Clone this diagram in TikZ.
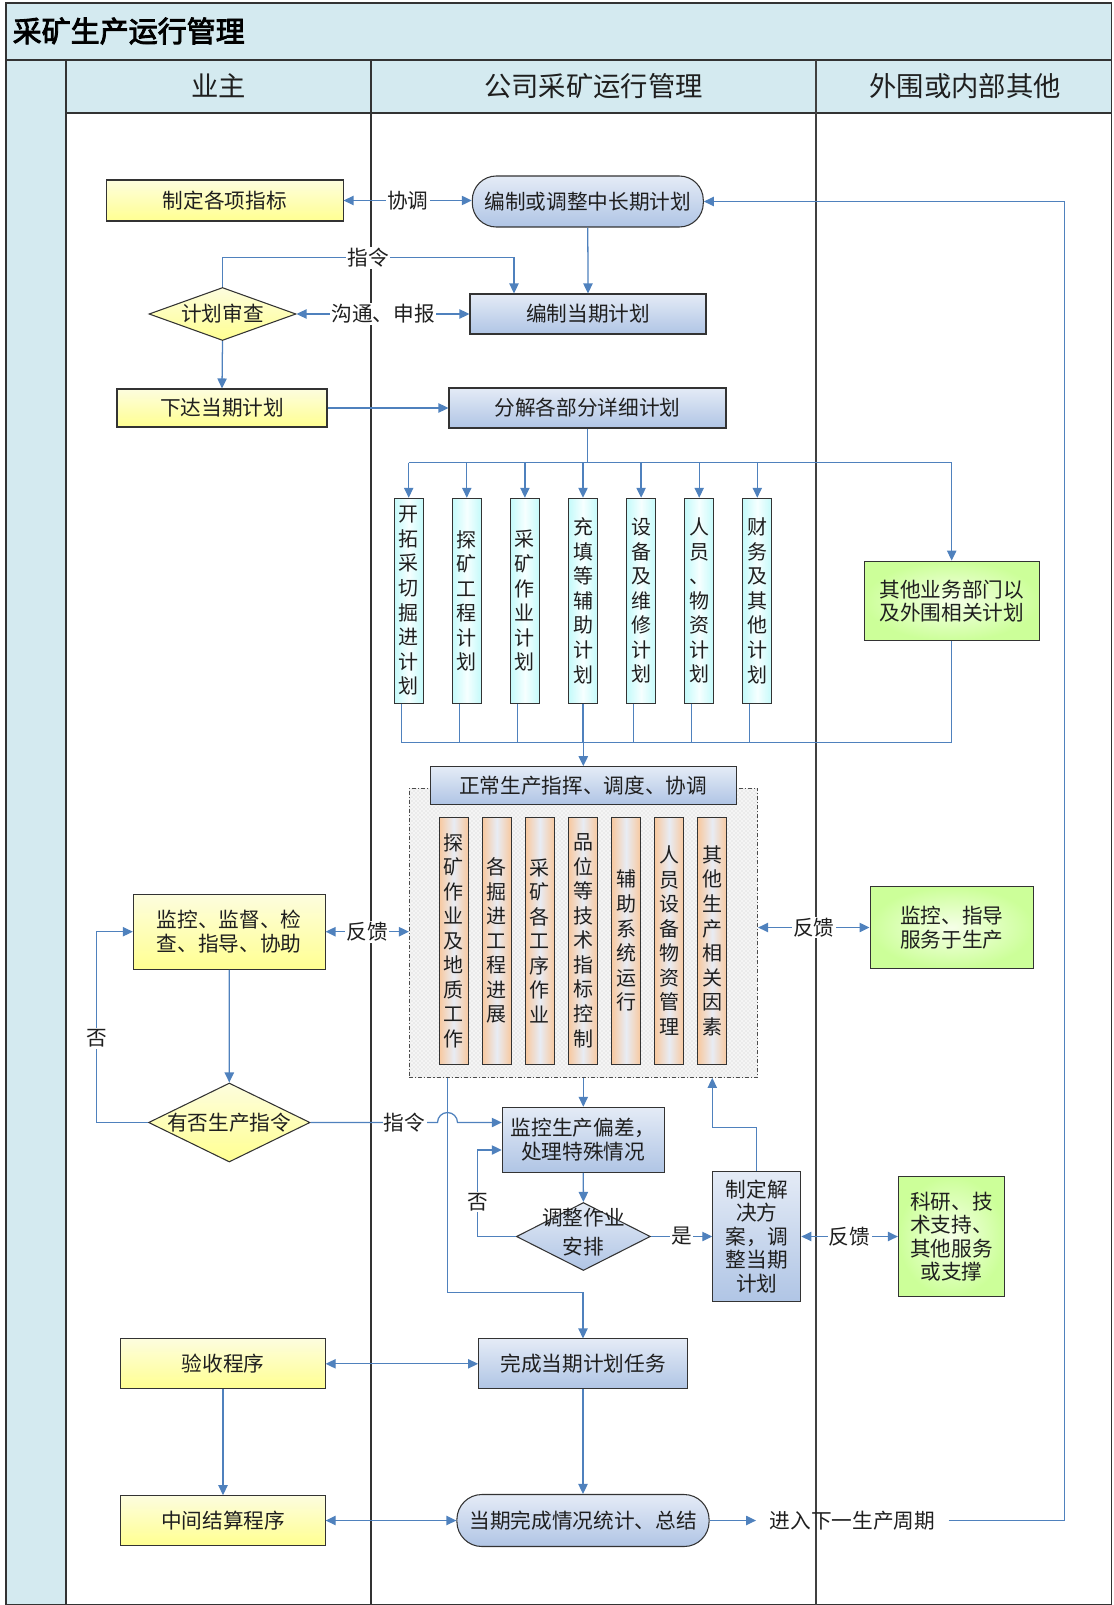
\documentclass[tikz,border=0pt]{standalone}
\usepackage{fontspec}
\setmainfont{Noto Sans CJK SC}
\newfontfamily\cjkb{Noto Sans CJK SC}[AutoFakeBold=3]
\usetikzlibrary{arrows.meta,shapes.geometric,patterns}
\newdimen\pxu \pxu=0.75pt
\definecolor{hdr}{RGB}{212,234,240}
\definecolor{linec}{RGB}{79,129,189}
\definecolor{yelT}{RGB}{253,253,222}
\definecolor{yelB}{RGB}{255,255,145}
\definecolor{bluT}{RGB}{228,235,246}
\definecolor{bluB}{RGB}{176,197,229}
\definecolor{grnI}{RGB}{246,255,232}
\definecolor{grnO}{RGB}{204,255,153}
\definecolor{cyE}{RGB}{196,250,250}
\definecolor{cyM}{RGB}{246,255,255}
\definecolor{orE}{RGB}{248,200,158}
\definecolor{orM}{RGB}{232,236,244}
\begin{document}
\begin{tikzpicture}[x=0.75pt,y=-0.75pt,
  every node/.style={font=\fontsize{15.5pt}{17.6pt}\selectfont, text=black!88},
  box/.style={draw=black!80, line width=0.8pt, inner sep=0pt, align=center},
  ybox/.style={box, top color=yelT, bottom color=yelB},
  bbox/.style={box, top color=bluT, bottom color=bluB},
  gbox/.style={box, inner color=grnI, outer color=grnO},
  cbox/.style={box, left color=cyE, right color=cyE, middle color=cyM,
    minimum width=29\pxu, minimum height=205\pxu, font=\fontsize{15pt}{18.4pt}\selectfont},
  obox/.style={box, left color=orE, right color=orE, middle color=orM,
    minimum width=29.3\pxu, minimum height=246.7\pxu, font=\fontsize{15pt}{18.4pt}\selectfont},
  ydia/.style={diamond, draw=black!80, line width=0.8pt, inner sep=0pt, top color=yelT, bottom color=yelB},
  bdia/.style={diamond, draw=black!80, line width=0.8pt, inner sep=0pt, top color=bluT, bottom color=bluB},
  conn/.style={draw=linec, line width=0.95pt},
  arr/.style={conn, -{Triangle[length=7.5pt,width=7pt]}},
  darr/.style={conn, {Triangle[length=7.5pt,width=7pt]}-{Triangle[length=7.5pt,width=7pt]}},
  lbl/.style={fill=white, inner sep=1pt},
  lane/.style={draw=black!80, line width=0.8pt}
]
\useasboundingbox (0,0) rectangle (1113,1605);
% frame and lanes
\fill[hdr] (6,3) rectangle (1111.5,113);
\fill[hdr] (6,60) rectangle (66,1604.5);
\draw[lane] (6,3) rectangle (1111.5,1604.5);
\draw[lane] (6,60) -- (1111.5,60);
\draw[lane] (66,113) -- (1111.5,113);
\draw[lane] (66,60) -- (66,1604.5);
\draw[lane] (371,60) -- (371,1604.5);
\draw[lane, line width=1.5pt, black!75] (816,60) -- (816,1604.5);
\node[anchor=west, font=\cjkb\bfseries\fontsize{21.75pt}{24pt}\selectfont, text=black] (title) at (8,31) {采矿生产运行管理};
\node[font=\fontsize{20.5pt}{24pt}\selectfont] (h1) at (218.5,86) {业主};
\node[font=\fontsize{20.5pt}{24pt}\selectfont] (h2) at (593.5,86) {公司采矿运行管理};
\node[font=\fontsize{20.5pt}{24pt}\selectfont] (h3) at (965,86) {外围或内部其他};

% nodes
\node[ybox, minimum width=236.5\pxu, minimum height=41\pxu] (n1) at (224.8,200.5) {制定各项指标};
\node[bbox, rounded corners=24\pxu, minimum width=231\pxu, minimum height=51\pxu] (t1) at (587.8,201.5) {编制或调整中长期计划};
\node[bbox, minimum width=236\pxu, minimum height=40\pxu] (n2) at (588,314) {编制当期计划};
\node[ydia, minimum width=147\pxu, minimum height=53\pxu] (d1) at (222.5,314) {};
\node (d1t) at (d1) {计划审查};
\node[ybox, minimum width=210\pxu, minimum height=38\pxu] (n3) at (222,408) {下达当期计划};
\node[bbox, minimum width=277\pxu, minimum height=40\pxu] (n4) at (587.5,408) {分解各部分详细计划};

\node[cbox] (c1) at (408.7,600.8) {开\\拓\\采\\切\\掘\\进\\计\\划};
\node[cbox] (c2) at (466.8,600.8) {探\\矿\\工\\程\\计\\划};
\node[cbox] (c3) at (524.9,600.8) {采\\矿\\作\\业\\计\\划};
\node[cbox] (c4) at (583.0,600.8) {充\\填\\等\\辅\\助\\计\\划};
\node[cbox] (c5) at (641.1,600.8) {设\\备\\及\\维\\修\\计\\划};
\node[cbox] (c6) at (699.2,600.8) {人\\员\\、\\物\\资\\计\\划};
\node[cbox] (c7) at (757.3,600.8) {财\\务\\及\\其\\他\\计\\划};
\node[gbox, minimum width=175.3\pxu, minimum height=79.7\pxu] (g1) at (951.7,601) {其他业务部门以\\及外围相关计划};

\node[draw=black!70, line width=0.6pt, dash pattern=on 3pt off 1.5pt on 0.8pt off 1.5pt,
  preaction={fill=gray!8}, pattern=crosshatch dots, pattern color=gray!40,
  minimum width=348.4\pxu, minimum height=289.2\pxu, inner sep=0pt] (zone) at (583.5,932.9) {};
\node[bbox, minimum width=306\pxu, minimum height=37.6\pxu] (n5) at (583.3,785.5) {正常生产指挥、调度、协调};
\node[obox] (o1) at (453.7,940.7) {探\\矿\\作\\业\\及\\地\\质\\工\\作};
\node[obox] (o2) at (496.8,940.7) {各\\掘\\进\\工\\程\\进\\展};
\node[obox] (o3) at (539.9,940.7) {采\\矿\\各\\工\\序\\作\\业};
\node[obox] (o4) at (583.0,940.7) {品\\位\\等\\技\\术\\指\\标\\控\\制};
\node[obox] (o5) at (626.1,940.7) {辅\\助\\系\\统\\运\\行};
\node[obox] (o6) at (669.2,940.7) {人\\员\\设\\备\\物\\资\\管\\理};
\node[obox] (o7) at (712.3,940.7) {其\\他\\生\\产\\相\\关\\因\\素};

\node[ybox, minimum width=191.7\pxu, minimum height=75.3\pxu] (y1) at (229.2,931.7) {监控、监督、检\\查、指导、协助};
\node[ydia, minimum width=161.5\pxu, minimum height=79\pxu] (d2) at (229.3,1122.5) {};
\node (d2t) at (d2) {有否生产指令};
\node[gbox, minimum width=163.3\pxu, minimum height=81.6\pxu] (g3) at (951.7,927.5) {监控、指导\\服务于生产};
\node[bbox, minimum width=162\pxu, minimum height=65\pxu] (n6) at (583.3,1139.8) {监控生产偏差，\\处理特殊情况};
\node[bdia, minimum width=134\pxu, minimum height=68\pxu] (d3) at (583.4,1236.5) {};
\node[font=\fontsize{15.5pt}{22pt}\selectfont, align=center] (d3t) at (583.4,1232) {调整作业\\安排};
\node[bbox, minimum width=88\pxu, minimum height=130.7\pxu] (n7) at (756.8,1236.5) {制定解\\决方\\案，调\\整当期\\计划};
\node[gbox, minimum width=106\pxu, minimum height=120\pxu] (g2) at (951.4,1236.5) {科研、技\\术支持、\\其他服务\\或支撑};
\node[bbox, minimum width=208.8\pxu, minimum height=49.7\pxu] (n8) at (583,1363.8) {完成当期计划任务};
\node[ybox, minimum width=204.2\pxu, minimum height=49.7\pxu] (y2) at (223,1363.8) {验收程序};
\node[ybox, minimum width=204.2\pxu, minimum height=49.6\pxu] (y3) at (223,1520.5) {中间结算程序};
\node[bbox, rounded corners=25\pxu, minimum width=252.2\pxu, minimum height=52\pxu] (t2) at (583,1520.5) {当期完成情况统计、总结};
\node[inner xsep=13.4\pxu, inner ysep=2pt] (lbl) at (852.4,1520.5) {进入下一生产周期};

% connectors
\draw[darr] (n1.east) -- node[lbl]{协调} (n1.east -| t1.west);
\draw[arr] (t1.south) -- (n2.north);
\coordinate (zl) at (514,257.7);
\draw[arr] (d1.north) |- node[lbl,pos=0.75]{指令} (zl) -- (zl |- n2.north);
\draw[darr] (d1.east) -- node[lbl]{沟通、申报} (n2.west);
\draw[arr] (d1.south) -- (n3.north);
\draw[arr] (n3.east) -- (n4.west);
\coordinate (bt) at (0,462.7);
\draw[conn] (n4.south) -- (n4.south |- bt);
\draw[conn] (c1.north |- bt) -- (g1.north |- bt);
\foreach \n in {c1,c2,c3,c4,c5,c6,c7,g1} \draw[arr] (\n.north |- bt) -- (\n.north);
\coordinate (bb) at (0,742.3);
\foreach \n in {c1,c2,c3,c5,c6,c7} {
  \coordinate (\n b) at ([xshift=-7.5\pxu]\n.south);
  \draw[conn] (\n b) -- (\n b |- bb);
}
\draw[conn] (c4.south) -- (c4.south |- bb);
\draw[conn] (c1b |- bb) -- (g1.south |- bb) -- (g1.south);
\draw[arr] (n5.north |- bb) -- (n5.north);

\draw[darr] (y1.east) -- node[lbl]{反馈} (y1.east -| zone.west);
\draw[darr] (zone.east |- g3.west) -- node[lbl]{反馈} (g3.west);
\draw[arr] (y1.south) -- (d2.north);
\coordinate (fx) at (96.7,0);
\draw[arr] (d2.west) -| node[lbl,pos=0.72]{否} (fx |- y1.west) -- (y1.west);
\coordinate (hopL) at (437.5,1122.5);
\draw[arr] (d2.east) -- node[lbl,pos=0.74]{指令} (hopL) arc (180:360:10) -- (n6.west |- hopL);
\coordinate (vx) at (447.5,1292.7);
\draw[arr] (vx |- zone.south) -- (vx) -| (n8.north);
\draw[arr] (n6.north |- zone.south) -- (n6.north);
\draw[arr] (n6.south) -- (d3.north);
\coordinate (nx2) at (477.4,1150);
\draw[arr] (d3.west) -| node[lbl,pos=0.7]{否} (nx2) -- (nx2 -| n6.west);
\draw[arr] (d3.east) -- node[lbl]{是} (n7.west);
\coordinate (ux) at (712.3,1127.7);
\draw[arr] (n7.north) |- (ux) -- (ux |- zone.south);
\draw[darr] (n7.east) -- node[lbl]{反馈} (g2.west);
\draw[darr] (y2.east) -- (n8.west);
\draw[arr] (y2.south) -- (y3.north);
\draw[arr] (n8.south) -- (t2.north);
\draw[darr] (y3.east) -- (t2.west);
\draw[arr] (t2.east) -- (lbl.west);
\coordinate (rx) at (1064.8,0);
\draw[arr] (lbl.east) -- (rx |- lbl.east) |- (t1.east);
\end{tikzpicture}
\end{document}
